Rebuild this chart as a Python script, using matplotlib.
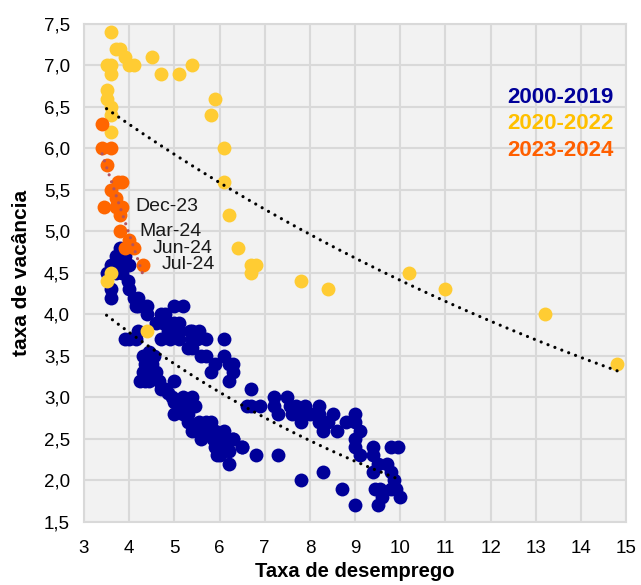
import numpy as np
import matplotlib.pyplot as plt

plt.rcParams['font.family'] = ['Liberation Sans', 'DejaVu Sans']

# 2000-2019: taxa de desemprego x taxa de vacância
u_2000_2019 = [3.8, 3.9, 3.7, 3.6, 3.8, 4.0, 3.5, 3.7, 3.85, 3.97, 3.6, 3.6, 4.0, 4.1, 4.15,
               4.2, 4.4, 4.4, 4.2,
               4.7, 4.8, 5.0, 5.2, 4.6, 4.75, 4.9, 5.0, 5.1, 4.85, 5.0, 5.1, 4.9, 5.1, 4.7,
               5.35, 5.4, 5.4, 5.55, 5.5, 5.7, 5.3, 5.4, 5.6, 5.7, 5.9, 5.8, 6.1, 6.1, 6.2,
               6.3, 6.2, 6.3,
               3.9, 4.2, 4.15, 4.0,
               4.3, 4.45, 4.35, 4.35, 4.3, 4.35, 4.5, 4.6, 4.65, 4.5, 4.25, 4.4, 4.55, 4.45,
               4.7, 5.0, 4.95, 5.0, 5.1, 5.1, 5.3, 5.4, 5.45, 5.0, 4.85, 4.8, 5.2, 5.3, 5.4,
               5.6, 5.7, 5.55, 5.8, 5.75, 5.6, 5.85, 6.0, 6.1, 5.95, 6.1, 6.3, 6.2, 6.5, 5.9,
               6.0, 5.5, 5.2, 6.2, 5.3, 5.65, 5.9, 6.05,
               6.7, 6.6, 6.7, 6.9, 7.2, 7.2, 7.3, 7.5, 7.55, 7.7, 7.8, 7.8, 7.9, 8.0, 8.2,
               8.2, 8.2, 8.3, 8.5, 8.6, 8.8, 9.0, 9.0, 9.1, 9.0, 9.0, 9.1, 7.6, 8.4,
               6.3, 6.5, 6.8, 7.3, 7.8, 8.3, 8.7, 9.0, 9.4, 9.4, 9.5, 9.7, 9.4, 9.8, 9.95,
               9.8, 9.85, 9.9, 10.0, 9.8, 9.45, 9.55, 9.6, 9.5]
v_2000_2019 = [4.8, 4.7, 4.7, 4.6, 4.6, 4.6, 4.5, 4.5, 4.5, 4.4, 4.3, 4.2, 4.3, 4.2, 4.1,
               4.1, 4.1, 4.0, 4.2,
               4.0, 4.0, 4.1, 4.1, 3.9, 3.9, 3.9, 3.9, 3.9, 3.8, 3.8, 3.8, 3.7, 3.7, 3.7,
               3.8, 3.7, 3.8, 3.8, 3.7, 3.7, 3.6, 3.6, 3.5, 3.5, 3.4, 3.3, 3.7, 3.5, 3.4,
               3.3, 3.2, 3.4,
               3.7, 3.8, 3.7, 3.7,
               3.5, 3.55, 3.5, 3.4, 3.3, 3.2, 3.4, 3.3, 3.2, 3.3, 3.2, 3.3, 3.5, 3.2,
               3.1, 3.2, 3.0, 2.95, 2.9, 2.85, 2.9, 3.0, 2.9, 2.8, 3.05, 3.1, 3.0, 2.7, 2.6,
               2.6, 2.7, 2.7, 2.7, 2.6, 2.5, 2.5, 2.4, 2.6, 2.3, 2.45, 2.5, 2.2, 2.4, 2.4,
               2.3, 2.6, 2.8, 2.35, 2.8, 2.55, 2.6, 2.5,
               3.1, 2.9, 2.9, 2.9, 3.0, 2.9, 2.8, 3.0, 2.9, 2.9, 2.8, 2.7, 2.9, 2.8, 2.9,
               2.8, 2.7, 2.6, 2.8, 2.6, 2.7, 2.8, 2.7, 2.6, 2.5, 2.4, 2.3, 2.8, 2.7,
               2.5, 2.4, 2.3, 2.3, 2.0, 2.1, 1.9, 1.7, 2.4, 2.3, 2.2, 2.2, 2.1, 2.4, 2.4,
               2.1, 2.0, 1.9, 1.8, 1.9, 1.9, 1.9, 1.8, 1.7]

# 2020-2022
u_2020_2022 = [3.6, 3.7, 3.8, 3.9, 3.5, 3.6, 4.0, 4.1, 3.6, 4.5, 4.7, 5.1, 5.4, 3.5, 3.5,
               3.6, 3.6, 3.6, 5.9, 5.8, 6.1, 6.1, 6.2, 6.4, 6.7, 6.8, 6.7, 7.8, 8.4, 10.2,
               11.0, 13.2, 14.8, 3.5, 3.6, 4.4]
v_2020_2022 = [7.4, 7.2, 7.2, 7.1, 7.0, 7.0, 7.0, 7.0, 6.9, 7.1, 6.9, 6.9, 7.0, 6.7, 6.6,
               6.5, 6.4, 6.2, 6.6, 6.4, 6.0, 5.6, 5.2, 4.8, 4.6, 4.6, 4.5, 4.4, 4.3, 4.5,
               4.3, 4.0, 3.4, 4.4, 4.5, 3.8]

# 2023-2024 (jan-23 a jul-24)
u_2023_2024 = [3.4, 3.4, 3.6, 3.5, 3.75, 3.85, 3.6, 3.7, 3.45, 3.7, 3.85, 3.8, 3.8,
               3.9, 4.0, 4.1, 4.3]
v_2023_2024 = [6.3, 6.0, 6.0, 5.8, 5.6, 5.6, 5.5, 5.4, 5.3, 5.3, 5.3, 5.2, 5.0,
               4.8, 4.9, 4.8, 4.6]
month_labels = {10: 'Dec-23', 12: 'Mar-24', 15: 'Jun-24', 16: 'Jul-24'}

c_blue = '#000099'
c_yellow = '#FFCC33'
c_orange = '#FF6600'

fig = plt.figure(figsize=(6.41, 5.85), dpi=100)
ax = fig.add_axes([0.131, 0.108, 0.846, 0.851])
ax.set_facecolor('#F2F2F2')

ax.scatter(u_2000_2019, v_2000_2019, s=100, color=c_blue, linewidths=0, zorder=3)
ax.scatter(u_2020_2022, v_2020_2022, s=100, color=c_yellow, linewidths=0, zorder=4)
ax.scatter(u_2023_2024, v_2023_2024, s=100, color=c_orange, linewidths=0, zorder=5)


def exp_trend(x, y):
    x = np.asarray(x)
    b, a = np.polyfit(x, np.log(y), 1)
    xs = np.linspace(x.min(), x.max(), 200)
    return xs, np.exp(a + b * xs)


for u, v in [(u_2000_2019, v_2000_2019), (u_2020_2022, v_2020_2022)]:
    xs, ys = exp_trend(u, v)
    ax.plot(xs, ys, color='black', lw=2.3, dashes=(0.01, 2.3),
            dash_capstyle='round', zorder=6)

# linha de tendência do período recente
k, c = np.polyfit(u_2023_2024, v_2023_2024, 1)
xs = np.linspace(min(u_2023_2024), max(u_2023_2024), 50)
ax.plot(xs, k * xs + c, color='#B5545C', lw=2.3, dashes=(0.01, 2.3),
        dash_capstyle='round', zorder=6)

offsets = {'Dec-23': (9, 0), 'Mar-24': (14, 0), 'Jun-24': (14, 0), 'Jul-24': (14, 0)}
for i, lab in month_labels.items():
    ax.annotate(lab, (u_2023_2024[i], v_2023_2024[i]), xytext=offsets[lab],
                textcoords='offset points', fontsize=14, va='center', ha='left',
                color='#1a1a1a', zorder=7)

for yy, txt, col in [(0.853, '2000-2019', c_blue), (0.800, '2020-2022', '#FFC000'),
                     (0.746, '2023-2024', '#FF5F00')]:
    ax.text(0.780, yy, txt, transform=ax.transAxes, fontsize=16, fontweight='bold',
            color=col, va='center', ha='left')

ax.set_xlim(3, 15)
ax.set_ylim(1.5, 7.5)
ax.set_xticks(np.arange(3, 16, 1))
ax.set_yticks(np.arange(1.5, 7.51, 0.5))
ax.set_yticklabels([f'{t:.1f}'.replace('.', ',') for t in np.arange(1.5, 7.51, 0.5)])
ax.grid(True, color='#D9D9D9', lw=1.5, zorder=0)
ax.set_axisbelow(True)
ax.tick_params(length=0, labelsize=13.5, pad=10)
ax.tick_params(axis='x', pad=13)
for sp in ax.spines.values():
    sp.set_color('#D9D9D9')
    sp.set_linewidth(1.5)

ax.set_xlabel('Taxa de desemprego', fontsize=14.5, fontweight='bold', labelpad=4)
ax.set_ylabel('taxa de vacância', fontsize=15, fontweight='bold', labelpad=9)

fig.savefig('out.png', dpi=100)
